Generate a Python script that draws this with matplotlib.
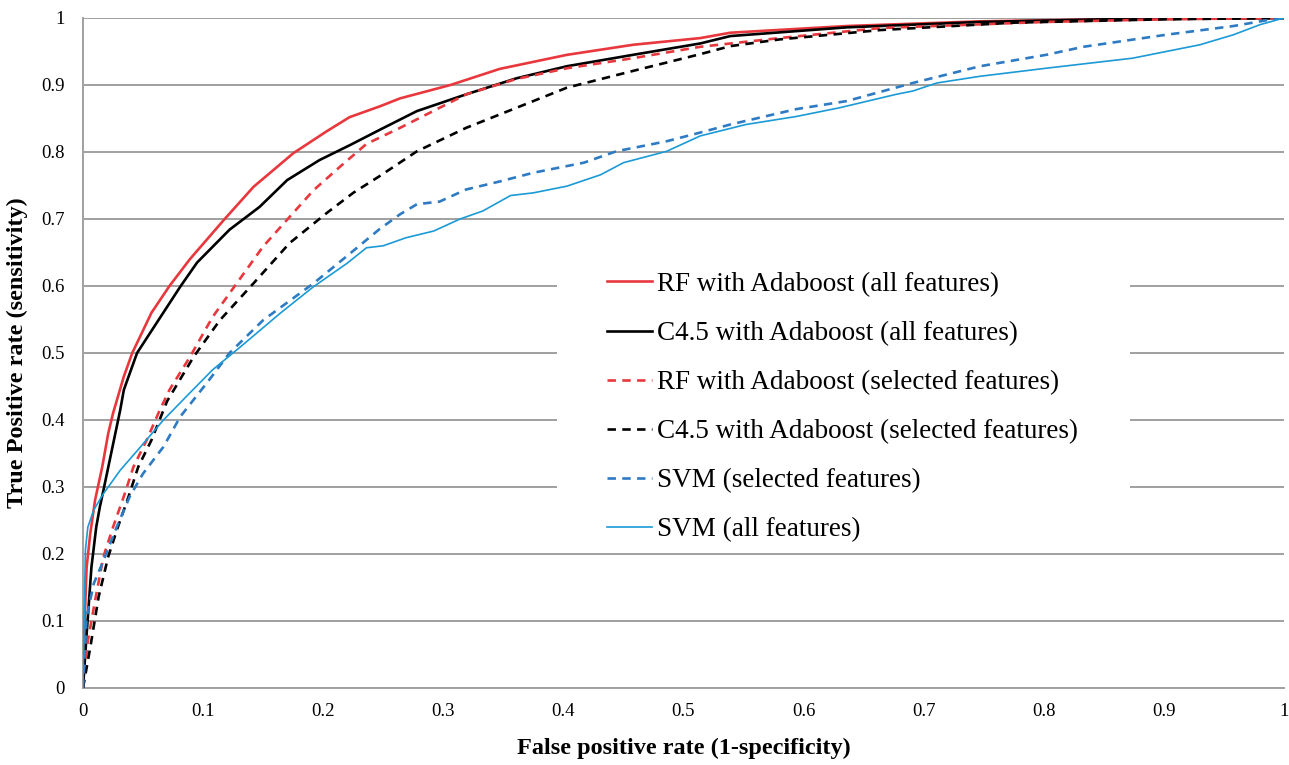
import matplotlib
matplotlib.use('Agg')
import matplotlib.pyplot as plt
from matplotlib.patches import Rectangle
from matplotlib.ticker import FuncFormatter

plt.rcParams['font.family'] = ['Liberation Serif', 'DejaVu Serif']

# ROC points (false positive rate, true positive rate)
rf_all_x = [0, 0.001, 0.003, 0.006, 0.010, 0.016, 0.021, 0.025, 0.034, 0.041, 0.057, 0.072, 0.089, 0.117,
            0.142, 0.175, 0.203, 0.222, 0.247, 0.264, 0.306, 0.347, 0.403, 0.458, 0.514, 0.539, 0.636,
            0.747, 0.85, 1.0]
rf_all_y = [0, 0.08, 0.18, 0.23, 0.28, 0.33, 0.38, 0.41, 0.465, 0.50, 0.56, 0.60, 0.64, 0.698,
            0.748, 0.798, 0.831, 0.852, 0.868, 0.880, 0.900, 0.924, 0.945, 0.960, 0.970, 0.978, 0.988,
            0.995, 0.998, 1.0]

c45_all_x = [0, 0.003, 0.007, 0.011, 0.014, 0.017, 0.024, 0.031, 0.034, 0.045, 0.061, 0.081, 0.095, 0.122,
             0.147, 0.170, 0.197, 0.222, 0.247, 0.278, 0.319, 0.361, 0.403, 0.458, 0.514, 0.539, 0.636,
             0.747, 0.85, 1.0]
c45_all_y = [0, 0.08, 0.18, 0.24, 0.27, 0.295, 0.355, 0.415, 0.445, 0.50, 0.544, 0.599, 0.635, 0.684,
             0.718, 0.758, 0.788, 0.810, 0.833, 0.861, 0.886, 0.910, 0.928, 0.945, 0.962, 0.973, 0.986,
             0.994, 0.998, 1.0]

rf_sel_x = [0, 0.004, 0.010, 0.017, 0.025, 0.034, 0.042, 0.053, 0.064, 0.072, 0.089, 0.108, 0.128, 0.150,
            0.172, 0.192, 0.214, 0.236, 0.264, 0.319, 0.361, 0.403, 0.458, 0.514, 0.580, 0.664, 0.80,
            0.9, 1.0]
rf_sel_y = [0, 0.07, 0.13, 0.196, 0.24, 0.286, 0.33, 0.37, 0.415, 0.445, 0.494, 0.554, 0.604, 0.659,
            0.703, 0.743, 0.778, 0.812, 0.836, 0.886, 0.909, 0.925, 0.940, 0.957, 0.970, 0.985, 0.994,
            0.998, 1.0]

c45_sel_x = [0, 0.006, 0.013, 0.021, 0.029, 0.038, 0.046, 0.057, 0.070, 0.092, 0.114, 0.142, 0.172, 0.203,
             0.225, 0.247, 0.278, 0.319, 0.361, 0.403, 0.458, 0.514, 0.539, 0.580, 0.664, 0.775, 0.9, 1.0]
c45_sel_y = [0, 0.06, 0.136, 0.196, 0.24, 0.286, 0.33, 0.37, 0.428, 0.494, 0.549, 0.604, 0.664, 0.709,
             0.739, 0.764, 0.801, 0.836, 0.866, 0.896, 0.921, 0.946, 0.958, 0.968, 0.982, 0.993, 0.998, 1.0]

svm_sel_x = [0, 0.003, 0.009, 0.017, 0.028, 0.039, 0.050, 0.067, 0.081, 0.103, 0.122, 0.150, 0.192, 0.220,
             0.247, 0.264, 0.278, 0.297, 0.319, 0.347, 0.375, 0.417, 0.444, 0.486, 0.514, 0.539, 0.594,
             0.636, 0.691, 0.747, 0.802, 0.833, 0.902, 0.958, 0.99, 1.0]
svm_sel_y = [0, 0.106, 0.156, 0.19, 0.24, 0.286, 0.32, 0.36, 0.405, 0.455, 0.50, 0.549, 0.604, 0.645,
             0.685, 0.707, 0.722, 0.726, 0.744, 0.756, 0.769, 0.784, 0.801, 0.816, 0.829, 0.841, 0.864,
             0.876, 0.903, 0.928, 0.945, 0.957, 0.975, 0.988, 0.998, 1.0]

svm_all_x = [0, 0.001, 0.002, 0.004, 0.009, 0.017, 0.031, 0.047, 0.067, 0.086, 0.108, 0.131, 0.164, 0.192,
             0.220, 0.236, 0.250, 0.269, 0.292, 0.314, 0.333, 0.356, 0.375, 0.403, 0.431, 0.450, 0.486,
             0.514, 0.552, 0.594, 0.630, 0.677, 0.691, 0.711, 0.747, 0.802, 0.874, 0.930, 0.958, 0.980, 1.0]
svm_all_y = [0, 0.11, 0.206, 0.24, 0.266, 0.29, 0.325, 0.358, 0.40, 0.435, 0.475, 0.509, 0.559, 0.599,
             0.634, 0.657, 0.660, 0.672, 0.682, 0.700, 0.712, 0.735, 0.739, 0.749, 0.766, 0.784, 0.801,
             0.824, 0.841, 0.853, 0.866, 0.886, 0.891, 0.903, 0.913, 0.925, 0.940, 0.960, 0.975, 0.990, 1.0]

ticks = [0, 0.1, 0.2, 0.3, 0.4, 0.5, 0.6, 0.7, 0.8, 0.9, 1]

red = '#E8383D'
blue_d = '#2E7BC4'
blue_s = '#1B9AD6'
grid_c = '#A0A0A0'

fig = plt.figure(figsize=(12.89, 7.65), dpi=100)
ax = fig.add_axes([0.0644, 0.1007, 0.9317, 0.8758])

ax.plot(rf_all_x, rf_all_y, color=red, lw=1.9, label='RF with Adaboost (all features)', zorder=3)
ax.plot(c45_all_x, c45_all_y, color='black', lw=1.9, label='C4.5 with Adaboost (all features)', zorder=3)
ax.plot(rf_sel_x, rf_sel_y, color=red, lw=1.9, dashes=(3.2, 2.4),
        label='RF with Adaboost (selected features)', zorder=3)
ax.plot(c45_sel_x, c45_sel_y, color='black', lw=1.9, dashes=(3.2, 2.4),
        label='C4.5 with Adaboost (selected features)', zorder=3)
ax.plot(svm_sel_x, svm_sel_y, color=blue_d, lw=1.9, dashes=(3.2, 2.4),
        label='SVM (selected features)', zorder=3)
ax.plot(svm_all_x, svm_all_y, color=blue_s, lw=1.2, label='SVM (all features)', zorder=3)

ax.set_xlim(0, 1)
ax.set_ylim(0, 1)
ax.set_xticks(ticks)
ax.set_yticks(ticks)
fmt = FuncFormatter(lambda v, p: f'{v:g}')
ax.xaxis.set_major_formatter(fmt)
ax.yaxis.set_major_formatter(fmt)
ax.tick_params(length=0, labelsize=13.5)
ax.tick_params(axis='y', pad=13)
ax.tick_params(axis='x', pad=11)

ax.grid(axis='y', color=grid_c, lw=1.4)
ax.set_axisbelow(True)
for s in ['top', 'right']:
    ax.spines[s].set_visible(False)
for s in ['left', 'bottom']:
    ax.spines[s].set_color(grid_c)
    ax.spines[s].set_linewidth(1.4)

ax.set_xlabel('False positive rate (1-specificity)', fontsize=17.5, fontweight='bold', labelpad=13)
ax.set_ylabel('True Positive rate (sensitivity)', fontsize=17.5, fontweight='bold', labelpad=10)

# white area behind the legend that hides the gridlines
ax.add_patch(Rectangle((0.395, 0.213), 0.477, 0.468, transform=ax.transAxes,
                       facecolor='white', edgecolor='none', zorder=1))

leg = ax.legend(loc='upper left', bbox_to_anchor=(0.4363, 0.621), borderaxespad=0, borderpad=0,
                fontsize=19.5, handlelength=1.66, handletextpad=0.18, labelspacing=0.89,
                frameon=False)

fig.savefig('out.png', dpi=100)
